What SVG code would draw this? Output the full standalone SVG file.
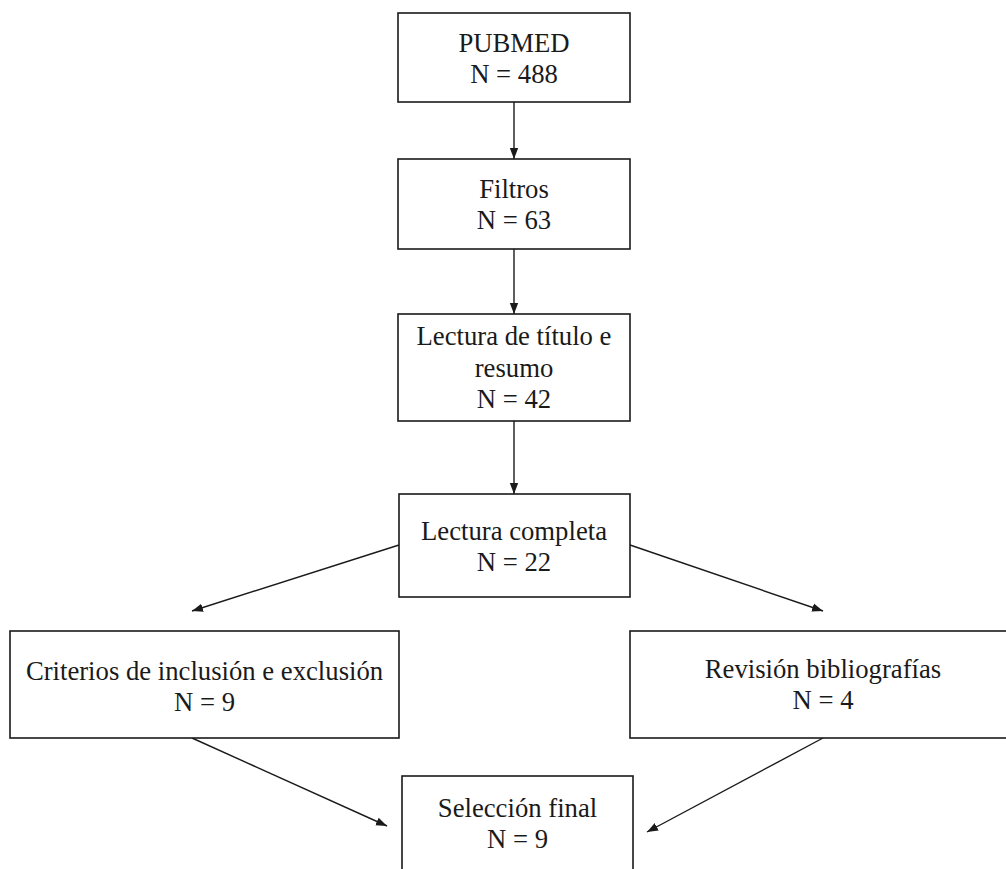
<svg xmlns="http://www.w3.org/2000/svg" width="1006" height="869" viewBox="0 0 1006 869">
<style>
.box{fill:#fff;stroke:#1a1a1a;stroke-width:1.6}
.t{font-family:"Liberation Serif","Times New Roman",serif;font-size:26.7px;fill:#1a1a1a;text-anchor:middle}
.c{stroke:#1a1a1a;stroke-width:1.4;fill:none;marker-end:url(#ah)}
</style>
<defs>
<marker id="ah" markerUnits="userSpaceOnUse" markerWidth="12" markerHeight="10" refX="11" refY="5" orient="auto">
<path d="M0,0.8 L11,5 L0,9.2 Z" fill="#1a1a1a"/>
</marker>
</defs>
<rect width="1006" height="869" fill="#fff"/>
<g id="connectors">
<line class="c" x1="514" y1="102" x2="514" y2="159"/>
<line class="c" x1="514" y1="249" x2="514" y2="314"/>
<line class="c" x1="514" y1="421" x2="514" y2="494"/>
<line class="c" x1="399" y1="545" x2="192" y2="611"/>
<line class="c" x1="630" y1="545" x2="823" y2="611"/>
<line class="c" x1="192" y1="738" x2="387" y2="826"/>
<line class="c" x1="823" y1="738" x2="647" y2="832"/>
</g>
<g id="pubmed">
<rect class="box" x="398" y="13" width="232" height="89"/>
<text class="t" x="514" y="52">PUBMED</text>
<text class="t" x="514" y="83">N = 488</text>
</g>
<g id="filtros">
<rect class="box" x="398" y="159" width="232" height="90"/>
<text class="t" x="514" y="198">Filtros</text>
<text class="t" x="514" y="229">N = 63</text>
</g>
<g id="lectura-titulo">
<rect class="box" x="398" y="314" width="232" height="107"/>
<text class="t" x="514" y="345">Lectura de título e</text>
<text class="t" x="514" y="377">resumo</text>
<text class="t" x="514" y="408">N = 42</text>
</g>
<g id="lectura-completa">
<rect class="box" x="399" y="494" width="231" height="103"/>
<text class="t" x="514" y="540">Lectura completa</text>
<text class="t" x="514" y="571">N = 22</text>
</g>
<g id="criterios">
<rect class="box" x="10" y="631" width="389" height="107"/>
<text class="t" x="204.5" y="680">Criterios de inclusión e exclusión</text>
<text class="t" x="204.5" y="711">N = 9</text>
</g>
<g id="revision">
<rect class="box" x="630" y="631" width="386" height="107"/>
<text class="t" x="823" y="678">Revisión bibliografías</text>
<text class="t" x="823" y="709">N = 4</text>
</g>
<g id="seleccion">
<rect class="box" x="402" y="776" width="231" height="110"/>
<text class="t" x="517.5" y="817">Selección final</text>
<text class="t" x="517.5" y="848">N = 9</text>
</g>
</svg>
